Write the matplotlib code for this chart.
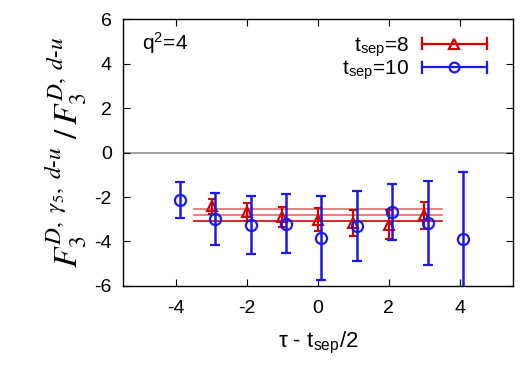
import matplotlib.pyplot as plt
from matplotlib.legend_handler import HandlerBase
from matplotlib.lines import Line2D

plt.rcParams['font.family'] = ['Liberation Sans', 'DejaVu Sans']
plt.rcParams['mathtext.fontset'] = 'stix'
plt.rcParams['axes.unicode_minus'] = False

# t_sep = 8 data (red triangles)
x8 = [-3, -2, -1, 0, 1, 2, 3]
y8 = [-2.42, -2.66, -2.90, -3.02, -3.17, -3.25, -2.82]
e8 = [0.35, 0.40, 0.47, 0.51, 0.60, 0.65, 0.60]

# t_sep = 10 data (blue circles)
x10 = [-3.9, -2.9, -1.9, -0.9, 0.1, 1.1, 2.1, 3.1, 4.1]
y10 = [-2.12, -2.99, -3.26, -3.20, -3.84, -3.29, -2.67, -3.18, -3.89]
e10 = [0.80, 1.18, 1.30, 1.33, 1.88, 1.58, 1.27, 1.90, 3.00]

# fit band for t_sep = 8
band_x = [-3.5, 3.5]
band_hi = -2.52
band_mid = -2.79
band_lo = -3.08

red = '#d40000'
blue = '#1a1ae6'


# gnuplot-like key sample: horizontal bar with end caps, symbol in middle
class HandlerXErr(HandlerBase):
    def create_artists(self, legend, orig, xdescent, ydescent, width, height, fontsize, trans):
        c = orig.get_color()
        y = height / 2 - ydescent
        x0, x1 = -xdescent, width - xdescent
        cap = 4
        arts = [
            Line2D([x0, x1], [y, y], color=c, lw=1.6),
            Line2D([x0, x0], [y - cap, y + cap], color=c, lw=1.6),
            Line2D([x1, x1], [y - cap, y + cap], color=c, lw=1.6),
            Line2D([(x0 + x1) / 2], [y], marker=orig.get_marker(), ms=orig.get_markersize(),
                   mfc='none', mec=c, mew=1.6, ls='none'),
        ]
        for a in arts:
            a.set_transform(trans)
        return arts


fig = plt.figure(figsize=(5.25, 3.67), dpi=100)
ax = fig.add_axes([0.234, 0.221, 0.743, 0.726])

ax.axhline(0, color='#909090', lw=1.2, zorder=1)

ax.plot(band_x, [band_hi, band_hi], color='#e86a6a', lw=1.2, zorder=2)
ax.plot(band_x, [band_mid, band_mid], color='#e86a6a', lw=1.2, zorder=2)
ax.plot(band_x, [band_lo, band_lo], color=red, lw=1.2, zorder=2)

ax.errorbar(x8, y8, yerr=e8, fmt='^', color=red, mfc='none', mec=red,
            ms=7, mew=1.5, elinewidth=1.6, capsize=3, capthick=1.6, zorder=3)
ax.errorbar(x10, y10, yerr=e10, fmt='o', color=blue, mfc='none', mec=blue,
            ms=8, mew=1.6, elinewidth=1.8, capsize=3.5, capthick=1.8, zorder=4)

h8 = Line2D([], [], color=red, marker='^', ms=6.5)
h10 = Line2D([], [], color=blue, marker='o', ms=7)

ax.set_xlim(-5.5, 5.5)
ax.set_ylim(-6, 6)
ax.set_xticks([-4, -2, 0, 2, 4])
ax.set_yticks([-6, -4, -2, 0, 2, 4, 6])
ax.tick_params(direction='in', top=True, right=True, length=5, labelsize=14)
ax.tick_params(axis='x', pad=10)
ax.tick_params(axis='y', pad=8)
for s in ax.spines.values():
    s.set_linewidth(1.0)

ax.text(0.05, 0.885, r'q$^\mathregular{2}$=4', transform=ax.transAxes, fontsize=15)

ax.set_xlabel(r'$\mathregular{\tau}$ - t$_\mathregular{sep}$/2', fontsize=16, labelpad=9)
ax.set_ylabel(r'$F_3^{D,\ \gamma_5,\ d\text{-}u}\ /\,F_3^{D,\ d\text{-}u}$', fontsize=24, labelpad=4)

ax.legend([h8, h10], [r't$_\mathregular{sep}$=8', r't$_\mathregular{sep}$=10'],
          handler_map={Line2D: HandlerXErr()},
          loc='upper right', bbox_to_anchor=(0.965, 0.99), frameon=False, fontsize=15,
          markerfirst=False, handlelength=3.1, borderaxespad=0.2,
          labelspacing=0.0, handletextpad=0.6)

fig.savefig('out.png', dpi=100)
